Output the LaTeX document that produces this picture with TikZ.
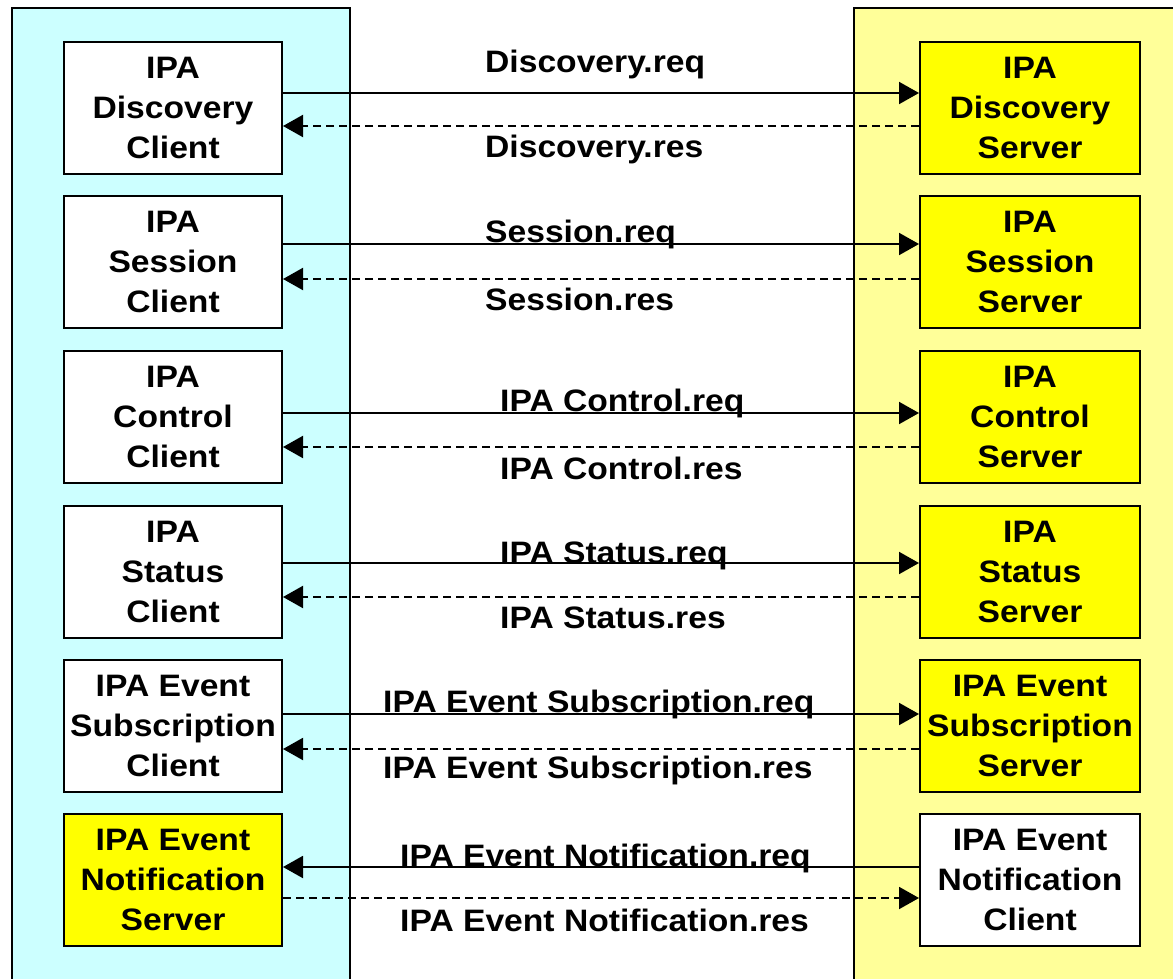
\documentclass[tikz,border=0pt]{standalone}
\usepackage{fontspec}
\setmainfont{Liberation Sans}[FakeStretch=1.085]
\usetikzlibrary{arrows.meta}
\definecolor{clientside}{HTML}{CCFFFF}
\definecolor{serverside}{HTML}{FFFF99}
\definecolor{serverbox}{HTML}{FFFF00}

\tikzset{
  panel/.style={draw=black, line width=2pt},
  unit/.style={draw=black, line width=2pt, minimum height=132pt, inner sep=0pt,
    align=center, font=\bfseries\fontsize{31}{40}\selectfont},
  leftunit/.style={unit, minimum width=218pt},
  rightunit/.style={unit, minimum width=220pt},
  msg/.style={line width=2pt, -{Triangle[length=20pt,width=22pt]}},
  reply/.style={msg, dash pattern=on 8pt off 5pt},
  lbl/.style={anchor=base west, inner sep=0pt, font=\bfseries\fontsize{31}{40}\selectfont},
}

\begin{document}
\begin{tikzpicture}[x=1pt, y=-1pt]
  \clip (0,0) rectangle (1173,979);
  \fill[white] (0,0) rectangle (1173,979);

  % side panels
  \draw[panel, fill=clientside] (12,8) rectangle (350,995);
  \draw[panel, fill=serverside] (854,8) rectangle (1190,995);

  % left column
  \node[leftunit, fill=white]     (c1) at (173,108) {IPA\\Discovery\\Client};
  \node[leftunit, fill=white]     (c2) at (173,262) {IPA\\Session\\Client};
  \node[leftunit, fill=white]     (c3) at (173,417) {IPA\\Control\\Client};
  \node[leftunit, fill=white]     (c4) at (173,572) {IPA\\Status\\Client};
  \node[leftunit, fill=white]     (c5) at (173,726) {IPA Event\\Subscription\\Client};
  \node[leftunit, fill=serverbox] (c6) at (173,880) {IPA Event\\Notification\\Server};

  % right column
  \node[rightunit, fill=serverbox] (s1) at (1030,108) {IPA\\Discovery\\Server};
  \node[rightunit, fill=serverbox] (s2) at (1030,262) {IPA\\Session\\Server};
  \node[rightunit, fill=serverbox] (s3) at (1030,417) {IPA\\Control\\Server};
  \node[rightunit, fill=serverbox] (s4) at (1030,572) {IPA\\Status\\Server};
  \node[rightunit, fill=serverbox] (s5) at (1030,726) {IPA Event\\Subscription\\Server};
  \node[rightunit, fill=white]     (s6) at (1030,880) {IPA Event\\Notification\\Client};

  % requests and responses
  \draw[msg]   (c1.east |- 0,93)  -- (s1.west |- 0,93);
  \draw[reply] (s1.west |- 0,126) -- (c1.east |- 0,126);
  \draw[msg]   (c2.east |- 0,244) -- (s2.west |- 0,244);
  \draw[reply] (s2.west |- 0,279) -- (c2.east |- 0,279);
  \draw[msg]   (c3.east |- 0,413) -- (s3.west |- 0,413);
  \draw[reply] (s3.west |- 0,447) -- (c3.east |- 0,447);
  \draw[msg]   (c4.east |- 0,563) -- (s4.west |- 0,563);
  \draw[reply] (s4.west |- 0,597) -- (c4.east |- 0,597);
  \draw[msg]   (c5.east |- 0,714) -- (s5.west |- 0,714);
  \draw[reply] (s5.west |- 0,749) -- (c5.east |- 0,749);
  \draw[msg]   (s6.west |- 0,867) -- (c6.east |- 0,867);
  \draw[reply] (c6.east |- 0,898) -- (s6.west |- 0,898);

  % message labels
  \node[lbl] (l1q) at (485,73)  {Discovery.req};
  \node[lbl] (l1s) at (485,158) {Discovery.res};
  \node[lbl] (l2q) at (485,242) {Session.req};
  \node[lbl] (l2s) at (485,310) {Session.res};
  \node[lbl] (l3q) at (500,411) {IPA Control.req};
  \node[lbl] (l3s) at (500,479) {IPA Control.res};
  \node[lbl] (l4q) at (500,563) {IPA Status.req};
  \node[lbl] (l4s) at (500,628) {IPA Status.res};
  \node[lbl] (l5q) at (383,712) {IPA Event Subscription.req};
  \node[lbl] (l5s) at (383,778) {IPA Event Subscription.res};
  \node[lbl] (l6q) at (400,866) {IPA Event Notification.req};
  \node[lbl] (l6s) at (400,931) {IPA Event Notification.res};
\end{tikzpicture}
\end{document}
